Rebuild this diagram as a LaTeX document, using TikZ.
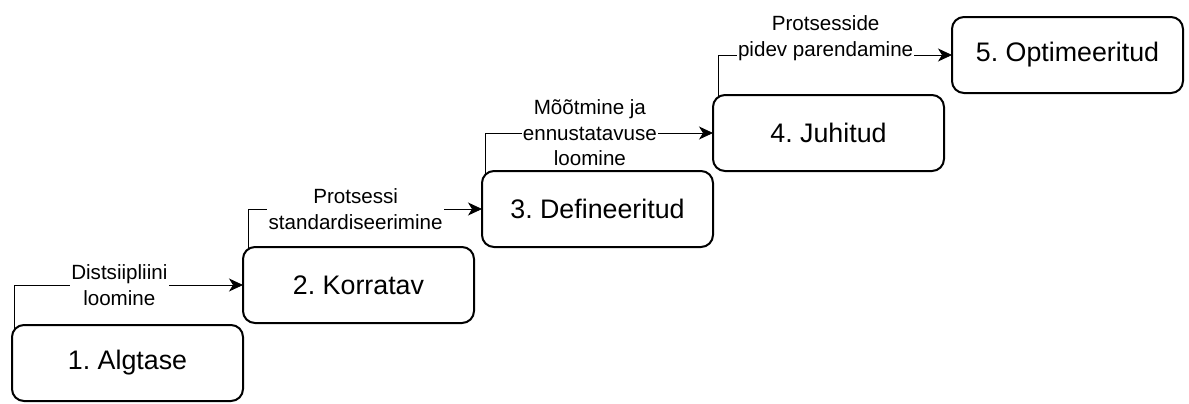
\documentclass[tikz,border=0pt]{standalone}
\usepackage{fontspec}
\setmainfont{Liberation Sans}
\usetikzlibrary{arrows.meta,positioning,backgrounds}
\frenchspacing

\begin{document}
\begin{tikzpicture} [>={Stealth[length=7pt,width=6.5pt,inset=2pt]}, black, line width=0.9pt,
	   every node/.style={font=\fontsize{10.3}{12.8}\selectfont},
	   stage/.style = {rectangle, rounded corners=6pt, draw, fill=white, line width=1pt,
	                   minimum width=115.5pt, minimum height=38pt, inner sep=0pt, outer sep=0pt,
	                   font=\fontsize{13.4}{16}\selectfont},
	   lvllabel/.style = {fill=white, align=center, inner sep=0.6pt, pos=0.73}]
	\useasboundingbox (0,0) rectangle (594.5pt,201.5pt);
	%% Levels
	\node [stage, anchor=south west] (algtase) at (6pt,1pt) {1. Algtase};
	\node [stage, above right=1pt and 0pt of algtase] (korratav) {2. Korratav};
	\node [stage, above right=0pt and 4pt of korratav] (defineeritud) {3. Defineeritud};
	\node [stage, above right=0pt and 0pt of defineeritud] (juhitud) {4. Juhitud};
	\node [stage, above right=1pt and 4pt of juhitud] (optimeeritud) {5. Optimeeritud};

	%% Transitions
	\begin{scope}[on background layer]
	\draw[->] ([xshift=1pt,yshift=-3pt]algtase.north west) |- (korratav.west)
	          node[lvllabel] {Distsiipliini\\loomine};
	\draw[->] ([xshift=2.5pt,yshift=-3pt]korratav.north west) |- (defineeritud.west)
	          node[lvllabel] {Protsessi\\standardiseerimine};
	\draw[->] ([xshift=1.5pt,yshift=-3pt]defineeritud.north west) |- (juhitud.west)
	          node[lvllabel] {Mõõtmine ja\\ennustatavuse\\loomine};
	\draw[->] ([xshift=2.5pt,yshift=-3pt]juhitud.north west) |- (optimeeritud.west)
	          node[lvllabel,yshift=8.5pt] {Protsesside\\pidev parendamine};
	\end{scope}
\end{tikzpicture}
\end{document}
